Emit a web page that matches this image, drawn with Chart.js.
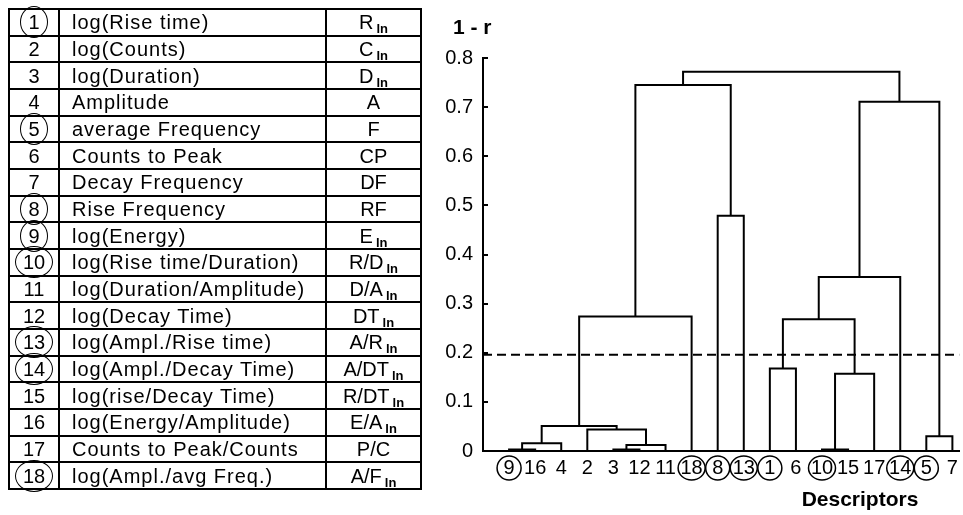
<!DOCTYPE html>
<html>
<head>
<meta charset="utf-8">
<script src="https://cdn.jsdelivr.net/npm/chart.js@4.4.1/dist/chart.umd.min.js"></script>
<style>
  body { margin: 0; background: #fff; }
  #wrap { position: relative; width: 963px; height: 515px; }
  #c { position: absolute; left: 0; top: 0; }
  #desc {
    position: absolute; left: 8px; top: 8px;
    border-collapse: collapse; table-layout: fixed;
    width: 412px; height: 482px;
    font: 20px "Liberation Sans", Arial, sans-serif;
    letter-spacing: 1px; color: #000;
  }
  #desc td { border: 2px solid #000; padding: 0; line-height: 20px; white-space: nowrap; }
  #desc td.no { text-align: center; position: relative; letter-spacing: 0; }
  #desc td.name { padding-left: 12px; }
  #desc td.abbr { text-align: center; letter-spacing: 0; }
  #desc sub { font-weight: bold; font-size: 13px; vertical-align: -4px; margin-left: 3px; line-height: 0; }
  .ring {
    position: absolute; left: 50%; top: 50%;
    width: 26px; height: 30px; transform: translate(-50%, -50%);
    border: 1.5px solid #000; border-radius: 50%;
  }
  .ring.wide { width: 36px; }
</style>
</head>
<body>
<div id="wrap">
  <canvas id="c" width="963" height="515"></canvas>
  <table id="desc">
    <colgroup><col style="width:50px"><col style="width:267px"><col style="width:95px"></colgroup>
    <tbody id="rows"></tbody>
  </table>
</div>
<script>
// descriptor table
const descName = ['log(Rise time)', 'log(Counts)', 'log(Duration)', 'Amplitude', 'average Frequency',
  'Counts to Peak', 'Decay Frequency', 'Rise Frequency', 'log(Energy)', 'log(Rise time/Duration)',
  'log(Duration/Amplitude)', 'log(Decay Time)', 'log(Ampl./Rise time)', 'log(Ampl./Decay Time)',
  'log(rise/Decay Time)', 'log(Energy/Amplitude)', 'Counts to Peak/Counts', 'log(Ampl./avg Freq.)'];
const abbrMain = ['R', 'C', 'D', 'A', 'F', 'CP', 'DF', 'RF', 'E', 'R/D', 'D/A', 'DT', 'A/R', 'A/DT', 'R/DT', 'E/A', 'P/C', 'A/F'];
const abbrSub = ['ln', 'ln', 'ln', '', '', '', '', '', 'ln', 'ln', 'ln', 'ln', 'ln', 'ln', 'ln', 'ln', '', 'ln'];
const circled = [1, 5, 8, 9, 10, 13, 14, 18];

// dendrogram
const leafOrder = [9, 16, 4, 2, 3, 12, 11, 18, 8, 13, 1, 6, 10, 15, 17, 14, 5, 7];
// children are descriptor numbers or earlier merges 'm<i>'
const mergeLeft  = [9, 3, 10, 'm0', 'm1', 5, 2, 'm3', 'm2', 1, 'm9', 'm7', 'm10', 8, 'm12', 'm11', 'm15'];
const mergeRight = [16, 12, 15, 4, 11, 7, 'm4', 'm6', 17, 6, 'm8', 18, 14, 13, 'm5', 'm13', 'm14'];
const mergeHeight = [0.003, 0.003, 0.003, 0.016, 0.012, 0.030, 0.044, 0.051, 0.157, 0.168,
  0.268, 0.274, 0.354, 0.479, 0.711, 0.745, 0.772];
const cutHeight = 0.196;
const yTicks = [0, 0.1, 0.2, 0.3, 0.4, 0.5, 0.6, 0.7, 0.8];

const FONT = '"Liberation Sans", Arial, sans-serif';

// build table
const tbody = document.getElementById('rows');
descName.forEach((name, i) => {
  const n = i + 1;
  const tr = document.createElement('tr');
  const ring = circled.includes(n) ? `<span class="ring${n > 9 ? ' wide' : ''}"></span>` : '';
  const sub = abbrSub[i] ? `<sub>${abbrSub[i]}</sub>` : '';
  tr.innerHTML = `<td class="no">${ring}${n}</td><td class="name">${name}</td><td class="abbr">${abbrMain[i]}${sub}</td>`;
  tbody.appendChild(tr);
});

// node positions in data space
const nodes = {};
leafOrder.forEach((n, i) => { nodes[n] = { x: i, y: 0 }; });
const datasets = [];
mergeHeight.forEach((h, i) => {
  const a = nodes[mergeLeft[i]], b = nodes[mergeRight[i]];
  nodes['m' + i] = { x: (a.x + b.x) / 2, y: h };
  datasets.push({
    data: [{ x: a.x, y: a.y }, { x: a.x, y: h }, { x: b.x, y: h }, { x: b.x, y: b.y }],
    showLine: true, borderColor: '#000', borderWidth: 2, pointRadius: 0, tension: 0
  });
});
datasets.push({
  data: [{ x: -1, y: cutHeight }, { x: 17.27, y: cutHeight }],
  showLine: true, borderColor: '#000', borderWidth: 2, borderDash: [9, 5], pointRadius: 0
});

const extras = {
  id: 'extras',
  afterDraw(chart) {
    const { ctx, chartArea, scales } = chart;
    ctx.save();
    ctx.fillStyle = '#000';
    ctx.strokeStyle = '#000';
    ctx.font = 'bold 21px ' + FONT;
    ctx.textBaseline = 'middle';
    ctx.textAlign = 'left';
    ctx.fillText('1 - r', chartArea.left - 30, 28);
    ctx.textAlign = 'center';
    ctx.fillText('Descriptors', chartArea.left + 377, 500);
    ctx.lineWidth = 1.5;
    leafOrder.forEach((n, i) => {
      if (!circled.includes(n)) return;
      const x = scales.x.getPixelForValue(i);
      ctx.beginPath();
      ctx.ellipse(x, chartArea.bottom + 17, n > 9 ? 13.5 : 12, 12, 0, 0, Math.PI * 2);
      ctx.stroke();
    });
    ctx.restore();
  }
};

new Chart(document.getElementById('c'), {
  type: 'scatter',
  data: { datasets },
  plugins: [extras],
  options: {
    responsive: false,
    animation: false,
    layout: { padding: { left: 430, right: 3, top: 58, bottom: 24 } },
    plugins: { legend: { display: false }, tooltip: { enabled: false } },
    scales: {
      x: {
        type: 'linear', min: -1, max: 17.27,
        afterBuildTicks: s => { s.ticks = leafOrder.map((n, i) => ({ value: i })); },
        afterFit: s => { s.height = 40; },
        grid: { display: false, drawTicks: false },
        border: { display: true, color: '#000', width: 2 },
        ticks: {
          autoSkip: false, maxRotation: 0, padding: 5, color: '#000',
          font: { size: 20, family: FONT },
          callback: v => leafOrder[v]
        }
      },
      y: {
        min: 0, max: 0.8,
        afterBuildTicks: s => { s.ticks = yTicks.map(v => ({ value: v })); },
        afterFit: s => { s.width = 53; },
        grid: { drawOnChartArea: false, tickLength: -5, color: '#000', lineWidth: 2 },
        border: { display: true, color: '#000', width: 2 },
        ticks: {
          padding: 15, color: '#000',
          font: { size: 20, family: FONT },
          callback: v => (v === 0 ? '0' : v.toFixed(1))
        }
      }
    }
  }
});
</script>
</body>
</html>
